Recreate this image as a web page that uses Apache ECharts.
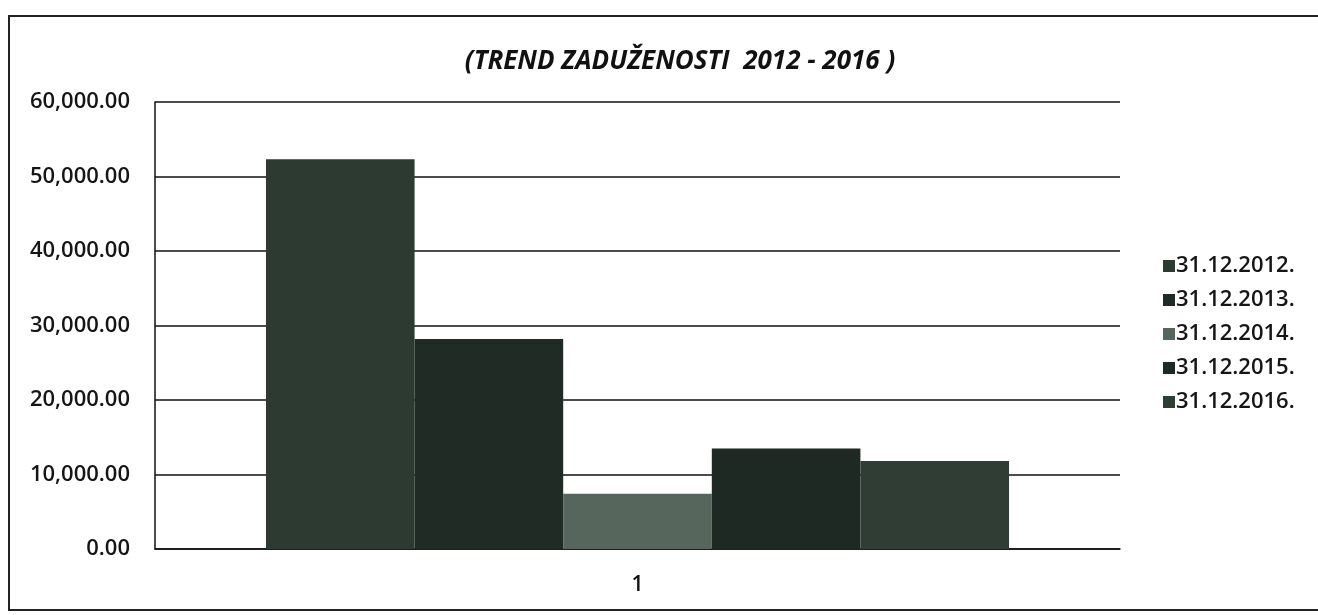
<!DOCTYPE html>
<html>
<head>
<meta charset="utf-8">
<script src="https://cdn.jsdelivr.net/npm/echarts@6/dist/echarts.min.js"></script>
<style>
  html, body { margin: 0; padding: 0; background: #fff; }
  #chart { width: 1318px; height: 615px; }
</style>
</head>
<body>
<div id="chart"></div>
<script>
  // data
  var categories = ['1'];
  var seriesNames = ['31.12.2012.', '31.12.2013.', '31.12.2014.', '31.12.2015.', '31.12.2016.'];
  var values = [52300, 28200, 7400, 13500, 11800];
  var colors = ['#2c3a31', '#1f2b24', '#56665c', '#1d2922', '#2f3d34'];

  var myChart = echarts.init(document.getElementById('chart'));

  var series = seriesNames.map(function (name, i) {
    return {
      name: name,
      type: 'bar',
      data: [values[i]],
      itemStyle: { color: colors[i] },
      barGap: '0%',
      barCategoryGap: '23%'
    };
  });

  var option = {
    backgroundColor: '#fff',
    animation: false,
    textStyle: { fontFamily: '"Open Sans", sans-serif' },
    title: {
      text: '(TREND ZADUŽENOSTI  2012 - 2016 )',
      left: 675,
      textAlign: 'center',
      top: 44,
      textStyle: {
        fontSize: 26,
        fontWeight: 'bold',
        fontStyle: 'italic',
        color: '#111',
        fontFamily: '"Open Sans", sans-serif'
      }
    },
    graphic: [{
      type: 'rect',
      shape: { x: 9, y: 16, width: 1330, height: 594 },
      style: { fill: 'none', stroke: '#222', lineWidth: 2 },
      silent: true
    }],
    legend: {
      orient: 'vertical',
      left: 1158,
      top: 250,
      itemWidth: 12,
      itemHeight: 12,
      itemGap: 12,
      icon: 'rect',
      textStyle: { fontSize: 22, fontWeight: 600, color: '#151515', padding: [0, 0, 0, -4] },
      data: seriesNames
    },
    grid: {
      left: 155,
      right: 198,
      top: 102,
      bottom: 66
    },
    xAxis: {
      type: 'category',
      data: categories,
      axisLine: { lineStyle: { color: '#111', width: 1.5 } },
      axisTick: { show: false },
      axisLabel: { fontSize: 21, fontWeight: 600, color: '#111', margin: 26 }
    },
    yAxis: {
      type: 'value',
      min: 0,
      max: 60000,
      interval: 10000,
      axisLine: { show: true, lineStyle: { color: '#111', width: 1.5 } },
      axisTick: { show: false },
      splitLine: { lineStyle: { color: '#111', width: 1.5 } },
      axisLabel: {
        fontSize: 22,
        fontWeight: 600,
        color: '#151515',
        margin: 25,
        formatter: function (v) {
          return v.toLocaleString('en-US', { minimumFractionDigits: 2, maximumFractionDigits: 2 });
        }
      }
    },
    series: series
  };

  myChart.setOption(option);
</script>
</body>
</html>
